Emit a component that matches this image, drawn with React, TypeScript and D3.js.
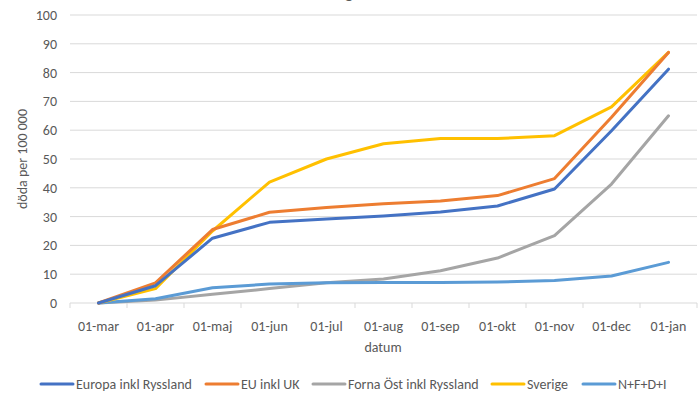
import React from "react";
import * as d3 from "d3";

const months = ["01-mar", "01-apr", "01-maj", "01-jun", "01-jul", "01-aug", "01-sep", "01-okt", "01-nov", "01-dec", "01-jan"];
const europa = [0, 6, 22.5, 28, 29.2, 30.2, 31.6, 33.7, 39.6, 59.8, 81.2];
const euUk = [0, 7, 25.5, 31.5, 33.2, 34.5, 35.4, 37.3, 43.2, 64.5, 87];
const fornaOst = [0, 1, 3, 5, 7, 8.3, 11.2, 15.6, 23.4, 41.3, 65];
const sverige = [0, 5, 25, 42, 50, 55.3, 57.1, 57.1, 58.1, 68.1, 87];
const nfdi = [0, 1.5, 5.3, 6.6, 7, 7.1, 7.1, 7.3, 7.8, 9.4, 14.1];
const yTicks = [0, 10, 20, 30, 40, 50, 60, 70, 80, 90, 100];

const series = [
  { name: "Europa inkl Ryssland", values: europa, color: "#4472C4" },
  { name: "EU inkl UK", values: euUk, color: "#ED7D31" },
  { name: "Forna Öst inkl Ryssland", values: fornaOst, color: "#A5A5A5" },
  { name: "Sverige", values: sverige, color: "#FFC000" },
  { name: "N+F+D+I", values: nfdi, color: "#5B9BD5" },
];
// lighter lines are painted first, darker ones on top
const drawOrder = [2, 4, 3, 1, 0];

const W = 700;
const H = 402;
const left = 70;
const right = 697;
const top = 15;
const bottom = 303;
const font = "Carlito, Calibri, 'Liberation Sans Narrow', Roboto, sans-serif";
const fs = 14;
const textColor = "#595959";
const gridColor = "#D9D9D9";

const legendX = [41, 206, 313, 492, 583];

export default function App() {
  const x = d3.scaleBand<string>().domain(months).range([left, right]);
  const y = d3.scaleLinear().domain([0, 100]).range([bottom, top]);
  const line = d3
    .line<number>()
    .x((_, i) => (x(months[i]) as number) + x.bandwidth() / 2)
    .y((d) => y(d));

  const tickXs = months.map((m) => x(m) as number).concat([right]);

  return (
    <svg width={W} height={H} style={{ position: "absolute", left: 0, top: 0, background: "#fff" }} fontFamily={font}>
      <rect x={0} y={0} width={W} height={H} fill="#fff" />
      <text x={349} y={-2} fontSize={18} fill={textColor} textAnchor="middle">g</text>
      {yTicks.map((t) => (
        <g key={t}>
          {t > 0 && <line x1={left} x2={right} y1={y(t)} y2={y(t)} stroke={gridColor} strokeWidth={1} />}
          <text x={left - 13} y={y(t)} dy="0.35em" fontSize={fs} fill={textColor} textAnchor="end">
            {t}
          </text>
        </g>
      ))}
      <line x1={left} x2={right} y1={bottom} y2={bottom} stroke={gridColor} strokeWidth={1} />
      {tickXs.map((tx, i) => (
        <line key={i} x1={tx} x2={tx} y1={bottom} y2={bottom + 5} stroke={gridColor} strokeWidth={1} />
      ))}
      {months.map((m) => (
        <text key={m} x={(x(m) as number) + x.bandwidth() / 2} y={326} dy="0.35em" fontSize={fs} fill={textColor} textAnchor="middle">
          {m}
        </text>
      ))}
      <text x={383} y={347} dy="0.35em" fontSize={fs} fill={textColor} textAnchor="middle">datum</text>
      <text transform={`translate(22,${(top + bottom) / 2}) rotate(-90)`} dy="0.35em" fontSize={fs} fill={textColor} textAnchor="middle">
        döda per 100 000
      </text>
      {drawOrder.map((i) => (
        <path key={series[i].name} d={line(series[i].values) || ""} fill="none" stroke={series[i].color} strokeWidth={3} strokeLinejoin="round" strokeLinecap="round" />
      ))}
      {series.map((s, i) => (
        <g key={s.name}>
          <line x1={legendX[i]} x2={legendX[i] + 32} y1={384} y2={384} stroke={s.color} strokeWidth={3} strokeLinecap="round" />
          <text x={legendX[i] + 35} y={384} dy="0.35em" fontSize={fs} fill={textColor}>
            {s.name}
          </text>
        </g>
      ))}
    </svg>
  );
}
